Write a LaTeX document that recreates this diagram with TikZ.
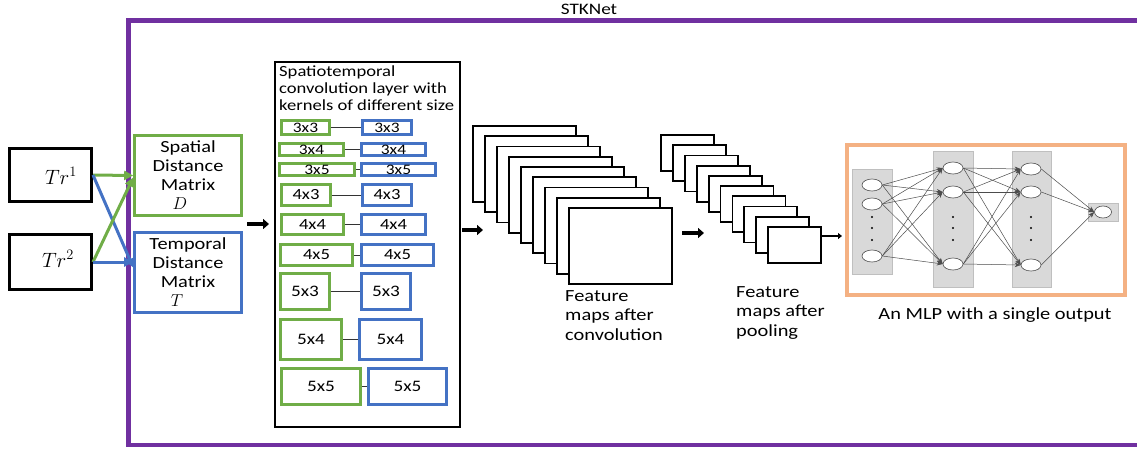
\documentclass[tikz,border=0pt]{standalone}
\usepackage[no-math]{fontspec}
\setmainfont[FakeStretch=1.2]{Carlito}
\usetikzlibrary{arrows.meta,shapes.geometric,calc}
\definecolor{kgreen}{HTML}{70AD47}
\definecolor{kblue}{HTML}{4472C4}
\definecolor{kpurple}{HTML}{7030A0}
\definecolor{korange}{HTML}{F4B183}
\definecolor{band}{HTML}{D9D9D9}
\definecolor{bandline}{HTML}{BFBFBF}
\tikzset{
  trbox/.style={draw=black, line width=3pt, minimum width=82pt, inner sep=0pt},
  mgreen/.style={draw=kgreen, line width=2.6pt, minimum width=107pt, minimum height=80pt, inner sep=0pt, align=center, font=\fontsize{17}{19}\selectfont},
  mblue/.style={draw=kblue, line width=2.6pt, minimum width=107pt, minimum height=80pt, inner sep=0pt, align=center, font=\fontsize{17}{19}\selectfont},
  gk/.style={draw=kgreen, line width=2.6pt, inner sep=0pt},
  bk/.style={draw=kblue, line width=2.6pt, inner sep=0pt},
  klink/.style={draw=black!80, line width=1pt},
  garrow/.style={draw=kgreen, line width=3pt, -{Triangle[length=9pt,width=9pt]}},
  barrow/.style={draw=kblue, line width=3pt, -{Triangle[length=9pt,width=9pt]}},
  bigarrow/.style={draw=black, line width=3.5pt, -{Triangle[length=6pt,width=10pt]}},
  smallarrow/.style={draw=black, line width=1.5pt, -{Triangle[length=4pt,width=6pt]}},
  fmap/.style={draw=black, line width=1.8pt, fill=white, inner sep=0pt},
  lbl/.style={font=\fontsize{17}{19.5}\selectfont, align=left, inner sep=0pt},
  bandbox/.style={draw=bandline, line width=0.6pt, fill=band},
  neuron/.style={ellipse, draw=black!70, line width=0.6pt, fill=white, minimum width=20pt, minimum height=12pt, inner sep=0pt},
  nnarrow/.style={draw=black!70, line width=0.5pt, -{Stealth[length=6pt,width=4.5pt]}},
  ndot/.style={circle, fill=black, inner sep=0pt, minimum size=2.2pt},
}
\begin{document}
\begin{tikzpicture}[x=1pt,y=-1pt]
\useasboundingbox (0,0) rectangle (1137,451);
% outer frame
\draw[kpurple, line width=4.5pt] (1150,20.5) -- (128.5,20.5) -- (128.5,445) -- (1150,445);
\node[font=\fontsize{16}{16}\selectfont] (title) at (589,9) {STKNet};

% trajectories
\node[trbox, minimum height=53pt] (tr1) at (50.5,175) {};
\node[trbox, minimum height=55pt] (tr2) at (50.5,262) {};
\node[font=\fontsize{20}{20}\selectfont] (tr1t) at (61,176) {$Tr^1$};
\node[font=\fontsize{20}{20}\selectfont] (tr2t) at (58,259) {$Tr^2$};

% matrices
\node[mgreen] (sdm) at (188,175.5) {Spatial\\Distance\\Matrix\\\hspace*{-16pt}$D$};
\node[mblue] (tdm) at (188,272.5) {Temporal\\Distance\\Matrix\\\hspace*{-22pt}$T$};

\draw[garrow] (tr1.east) -- (sdm.west);
\draw[barrow] (tr1.east) -- ([yshift=5pt]tdm.west);
\draw[garrow] (tr2.east) -- ([yshift=-2pt]sdm.west);
\draw[barrow] (tr2.east) -- (tr2.east -| tdm.west);

% kernel layer
\node[draw=black, line width=1.3pt, minimum width=185pt, minimum height=365pt, inner sep=0pt] (kbox) at (367.5,244.5) {};
\node[anchor=north west, font=\fontsize{15.5}{17}\selectfont, align=left, inner sep=0pt] (ktitle) at (279,66) {Spatiotemporal\\convolution layer with\\kernels of different size};

\foreach \i/\gc/\gw/\bc/\bw/\yc/\h/\fs/\lab in {
  1/305.5/51/387/52/127.5/17/14.5/3x3,
  2/311.5/67/393.5/67/149.5/15/14.5/3x4,
  3/317/78/398.5/77/169.5/15/14.5/3x5,
  4/306/52/387/52/195/24/15.5/4x3,
  5/312.5/65/393.5/67/224.5/23/15.5/4x4,
  6/316.5/75/397.5/75/255/24/15.5/4x5,
  7/305/52/386/52/291.5/39/16/5x3,
  8/311/64/390.5/65/339.5/43/16/5x4,
  9/321/82/407.5/81/386.5/39/16/5x5}{
  \node[gk, font=\fontsize{\fs}{\fs}\selectfont, minimum width=\gw pt-2.5pt, minimum height=\h pt-2.5pt] (g\i) at (\gc,\yc) {\lab};
  \node[bk, font=\fontsize{\fs}{\fs}\selectfont, minimum width=\bw pt-2.5pt, minimum height=\h pt-2.5pt] (b\i) at (\bc,\yc) {\lab};
  \draw[klink] (g\i.east) -- (b\i.west);
}

% arrows between stages
\coordinate (a1s) at (247,224); \coordinate (a1e) at (269,224);
\coordinate (a2s) at (462,230); \coordinate (a2e) at (483,230);
\coordinate (a3s) at (682,233); \coordinate (a3e) at (704,233);
\coordinate (a4s) at (822,236); \coordinate (a4e) at (842,236);
\draw[bigarrow] (a1s) -- (a1e);
\draw[bigarrow] (a2s) -- (a2e);
\draw[bigarrow] (a3s) -- (a3e);
\draw[smallarrow] (a4s) -- (a4e);

% feature maps after convolution
\foreach \i in {0,...,8}{
  \node[fmap, minimum width=103pt, minimum height=76pt] (fc\i) at ({524.5+12*\i},{164+10.25*\i}) {};
}
\node[lbl, anchor=north west] (fctext) at (565,290) {Feature\\maps after\\convolution};

% feature maps after pooling
\foreach \i in {0,...,9}{
  \node[fmap, minimum width=53pt, minimum height=36pt] (fp\i) at ({687.5+11.9*\i},{153+10.2*\i}) {};
}
\node[lbl, anchor=north west] (fptext) at (736,286) {Feature\\maps after\\pooling};

% MLP
\node[draw=korange, line width=4pt, minimum width=278pt, minimum height=150pt, inner sep=0pt] (mlp) at (986,220) {};
\draw[bandbox] (852,169) rectangle (892,274);
\draw[bandbox] (933,151) rectangle (973,287);
\draw[bandbox] (1012,151) rectangle (1051,287);
\draw[bandbox] (1088,203) rectangle (1118,221);
\foreach \j/\y in {1/185,2/204,3/256}{ \node[neuron] (n1\j) at (872,\y) {}; }
\foreach \j/\y in {1/168,2/192,3/264}{ \node[neuron] (n2\j) at (953,\y) {}; }
\foreach \j/\y in {1/169,2/192,3/265}{ \node[neuron] (n3\j) at (1031,\y) {}; }
\node[neuron, minimum width=17pt] (nout) at (1103,212) {};
\foreach \x in {872,953,1031}{
  \foreach \y in {217,228,240}{ \node[ndot] at (\x,\y) {}; }
}
\foreach \a in {1,2,3}{
  \foreach \b in {1,2,3}{
    \draw[nnarrow] (n1\a.east) -- (n2\b.west);
    \draw[nnarrow] (n2\a.east) -- (n3\b.west);
  }
  \draw[nnarrow] (n3\a.east) -- (nout.west);
}
\node[font=\fontsize{17}{17}\selectfont, inner sep=0pt] (mlptext) at (995,315) {An MLP with a single output};
\end{tikzpicture}
\end{document}
